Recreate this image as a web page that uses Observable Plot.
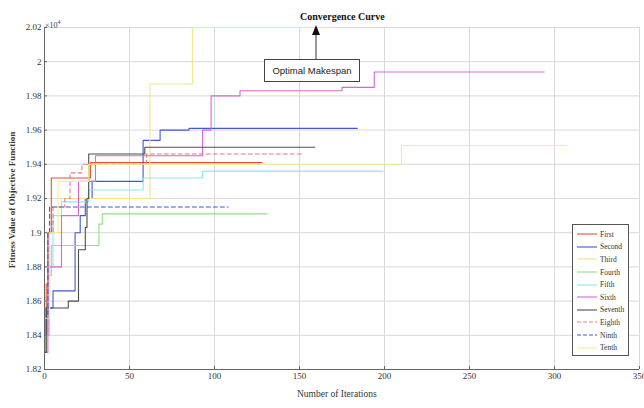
<!DOCTYPE html>
<html>
<head>
<meta charset="utf-8">
<script src="https://cdn.jsdelivr.net/npm/d3@7"></script>
<script src="https://cdn.jsdelivr.net/npm/@observablehq/plot@0.6"></script>
<style>
  body { margin: 0; background: #fff; }
  #wrap { position: relative; width: 644px; height: 408px; font-family: "Liberation Serif", "DejaVu Serif", serif; }
  #wrap svg { display: block; }
  .ov { position: absolute; white-space: nowrap; color: #111; }
</style>
</head>
<body>
<div id="wrap"></div>
<script>
// ---- data (iteration, fitness value ×10^4); each value holds until the next point ----
const seriesNames = ["First","Second","Third","Fourth","Fifth","Sixth","Seventh","Eighth","Ninth","Tenth"];
const first   = [[0,1.83],[1,1.87],[2,1.9],[4,1.932],[26,1.932],[27,1.941],[128,1.941]];
const second  = [[0,1.84],[1,1.856],[5,1.866],[17,1.866],[18,1.9],[21,1.91],[24,1.92],[28,1.93],[57,1.93],[58,1.954],[67,1.954],[68,1.96],[84,1.96],[85,1.961],[184,1.961]];
const third   = [[0,1.86],[3,1.9],[10,1.92],[58,1.92],[62,1.987],[85,1.987],[87,2.02],[170,2.02]];
const fourth  = [[0,1.83],[1,1.84],[2,1.875],[4,1.8925],[27,1.8925],[32,1.905],[34,1.911],[131,1.911]];
const fifth   = [[0,1.84],[3,1.88],[5,1.91],[10,1.918],[24,1.918],[26,1.925],[58,1.932],[92,1.932],[93,1.936],[199,1.936]];
const sixth   = [[0,1.83],[2,1.88],[9,1.88],[10,1.91],[20,1.93],[30,1.945],[92,1.945],[93,1.96],[97,1.96],[98,1.98],[114,1.98],[115,1.983],[174,1.983],[175,1.985],[193,1.985],[194,1.994],[294,1.994]];
const seventh = [[0,1.83],[1,1.856],[13,1.856],[14,1.86],[20,1.89],[24,1.903],[25,1.92],[26,1.946],[58,1.946],[59,1.95],[159,1.95]];
const eighth  = [[0,1.84],[2,1.9],[5,1.915],[12,1.92],[15,1.935],[22,1.94],[57,1.94],[60,1.946],[152,1.946]];
const ninth   = [[0,1.85],[2,1.9],[3,1.915],[108,1.915]];
const tenth   = [[0,1.85],[3,1.9],[8,1.93],[26,1.94],[209,1.94],[210,1.951],[307,1.951]];
const seriesData = [first, second, third, fourth, fifth, sixth, seventh, eighth, ninth, tenth];

const xTicks = [0,50,100,150,200,250,300,350];
const yTicks = [1.82,1.84,1.86,1.88,1.9,1.92,1.94,1.96,1.98,2,2.02];

const colors = ["#e2503c","#4357d6","#f6e48a","#96dd86","#8ae8f2","#d866d8","#4d4d4d","#e8788a","#3e55d8","#f7ee8e"];
const dashed = [false,false,false,false,false,false,false,true,true,false];

const rows = seriesData.flatMap((s, i) => s.map(([x, y]) => ({series: seriesNames[i], x, y})));

const marks = [
  Plot.gridX(xTicks, {stroke: "#d8d8d8", strokeOpacity: 1}),
  Plot.gridY(yTicks, {stroke: "#d8d8d8", strokeOpacity: 1}),
  ...seriesNames.map((name, i) => Plot.line(rows.filter(d => d.series === name), {
    x: "x", y: "y", curve: "step-after", stroke: colors[i], strokeWidth: 1.1,
    strokeDasharray: dashed[i] ? "4,3" : null
  })),
  Plot.ruleX([0], {stroke: "#666"}),
  Plot.ruleY([1.82], {stroke: "#666"}),
  Plot.axisX(xTicks, {tickSize: -3, tickPadding: 6, fontSize: 9, stroke: "#666", fill: "#333", label: null}),
  Plot.axisY(yTicks, {tickSize: -3, tickPadding: 6, fontSize: 9, stroke: "#666", fill: "#333", label: null,
    tickFormat: d => String(+d.toFixed(2))})
];

const chart = Plot.plot({
  width: 644, height: 408,
  marginLeft: 44, marginRight: 5, marginTop: 27, marginBottom: 39,
  style: {fontFamily: "Liberation Serif, serif", background: "#fff"},
  x: {domain: [0, 350]},
  y: {domain: [1.82, 2.02]},
  marks
});

const wrap = document.getElementById("wrap");
wrap.appendChild(chart);

function ov(html, css) {
  const d = document.createElement("div");
  d.className = "ov";
  d.innerHTML = html;
  Object.assign(d.style, css);
  wrap.appendChild(d);
  return d;
}

// title
ov("Convergence Curve", {left: "300px", top: "11px", fontSize: "10px", fontWeight: "bold"});
// exponent
ov("\u00d710<sup style='font-size:6px'>4</sup>", {left: "45px", top: "19px", fontSize: "8px", color: "#444"});
// axis labels
ov("Number of Iterations", {left: "297px", top: "389px", fontSize: "9.5px", color: "#333"});
ov("Fitness Value of Objective Function", {left: "12px", top: "200px", fontSize: "9px", fontWeight: "bold", color: "#333",
  transform: "translate(-50%,-50%) rotate(-90deg)", transformOrigin: "center"});
// annotation box + arrow
ov("Optimal Makespan", {left: "264px", top: "59px", width: "94px", height: "21px", lineHeight: "21px", textAlign: "center",
  border: "1px solid #444", background: "#fff", fontFamily: "Liberation Sans, Arial, sans-serif", fontSize: "9.5px", color: "#222"});
ov("<svg width='12' height='36'><line x1='6' y1='36' x2='6' y2='8' stroke='#333' stroke-width='1'/><path d='M2,12 L6,2 L10,12 Z' fill='#111'/></svg>",
  {left: "310px", top: "23px", lineHeight: "0"});

// legend
const leg = document.createElement("div");
leg.className = "ov";
Object.assign(leg.style, {left: "572px", top: "224px", width: "57px", height: "132px", border: "1px solid #555", background: "#fff",
  fontSize: "7.5px", paddingTop: "3px", boxSizing: "border-box"});
seriesNames.forEach((name, i) => {
  const row = document.createElement("div");
  row.style.height = "12.6px";
  row.style.display = "flex";
  row.style.alignItems = "center";
  row.innerHTML = `<svg width="22" height="6" style="margin-left:3px"><line x1="1" y1="3" x2="21" y2="3" stroke="${colors[i]}" stroke-width="1.1" ${dashed[i] ? 'stroke-dasharray="4,2"' : ''}/></svg><span style="margin-left:2px;color:#333">${name}</span>`;
  leg.appendChild(row);
});
wrap.appendChild(leg);
</script>
</body>
</html>
